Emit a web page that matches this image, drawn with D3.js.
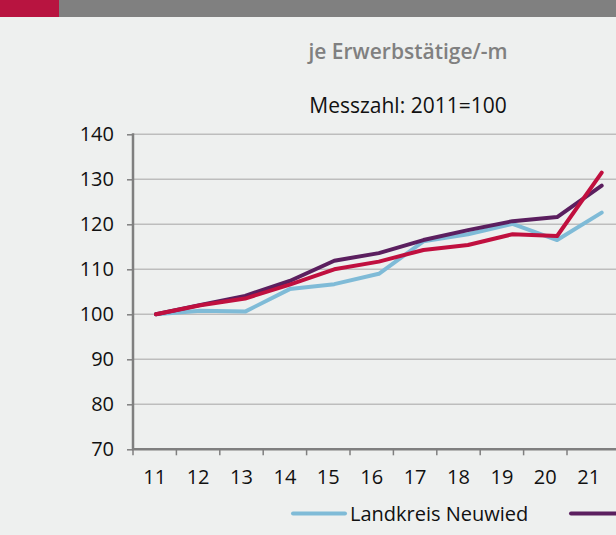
<!DOCTYPE html>
<html>
<head>
<meta charset="utf-8">
<script src="https://cdn.jsdelivr.net/npm/d3@7"></script>
<style>
  body { margin: 0; background: #eef0ef; }
  svg { display: block; font-family: "Open Sans", sans-serif; }
  .grid-line { stroke: #bdbdbd; stroke-width: 1.5; }
  .axis-line { stroke: #7f7f7f; stroke-width: 2.5; }
</style>
</head>
<body>
<div id="wrapper"></div>
<script>
// data
const years = ["11", "12", "13", "14", "15", "16", "17", "18", "19", "20", "21"];
const neuwied = [100, 100.8, 100.6, 105.6, 106.7, 109.0, 116.2, 117.8, 120.1, 116.5, 122.6];
const rlp = [100, 102.1, 104.1, 107.4, 111.9, 113.6, 116.5, 118.7, 120.7, 121.6, 128.6];
const deutschland = [100, 102.0, 103.5, 106.6, 110.0, 111.7, 114.3, 115.4, 117.8, 117.4, 131.5];
const yTicks = [70, 80, 90, 100, 110, 120, 130, 140];
const legendLabels = ["Landkreis Neuwied"];

const series = [
  { name: "Landkreis Neuwied", values: neuwied, color: "#7fbbd7" },
  { name: "Rheinland-Pfalz", values: rlp, color: "#5b1f5f" },
  { name: "Deutschland", values: deutschland, color: "#c0103f" },
];

// dimensions
const width = 616;
const height = 535;

const svg = d3.select("#wrapper")
  .append("svg")
  .attr("width", width)
  .attr("height", height);

svg.append("rect")
  .attr("width", width)
  .attr("height", height)
  .attr("fill", "#eef0ef");

// top banner
svg.append("rect").attr("width", width).attr("height", 17).attr("fill", "#808080");
svg.append("rect").attr("width", 59).attr("height", 17).attr("fill", "#b81440");

// titles
svg.append("text")
  .attr("x", 408).attr("y", 59)
  .attr("text-anchor", "middle")
  .attr("font-size", 21).attr("font-weight", 600)
  .attr("fill", "#808080")
  .text("je Erwerbstätige/-m");

svg.append("text")
  .attr("x", 408).attr("y", 113)
  .attr("text-anchor", "middle")
  .attr("font-size", 21)
  .attr("fill", "#111")
  .text("Messzahl: 2011=100");

// scales
const yScale = d3.scaleLinear().domain([70, 140]).range([449.3, 134.3]);
// axis categories
const xBand = d3.scaleBand().domain(years).range([133, 610.4]);
// line points
const xPoint = d3.scalePoint().domain(years).range([156, 601.7]);

// grid
svg.append("g")
  .selectAll("line")
  .data(yTicks.filter(d => d > 70))
  .join("line")
  .attr("class", "grid-line")
  .attr("x1", 133).attr("x2", width)
  .attr("y1", d => yScale(d)).attr("y2", d => yScale(d));

// y axis
const yAxis = svg.append("g")
  .attr("transform", "translate(133,0)")
  .call(d3.axisLeft(yScale).tickValues(yTicks).tickSize(6).tickPadding(13));
yAxis.select(".domain").remove();
yAxis.append("line").attr("class", "axis-line")
  .attr("y1", yScale(140) - 1).attr("y2", yScale(70));
yAxis.selectAll(".tick line").attr("stroke", "#7f7f7f").attr("stroke-width", 1.5);
yAxis.selectAll(".tick text")
  .attr("font-size", 20).attr("font-family", "'Open Sans', sans-serif").attr("fill", "#111");

// x axis
const xAxis = svg.append("g")
  .attr("transform", `translate(0,${yScale(70)})`);
xAxis.append("line").attr("class", "axis-line")
  .attr("x1", 132).attr("x2", width);
xAxis.selectAll(".tick-mark")
  .data(years)
  .join("line")
  .attr("class", "tick-mark")
  .attr("x1", d => xBand(d)).attr("x2", d => xBand(d))
  .attr("y1", 0).attr("y2", 6)
  .attr("stroke", "#7f7f7f").attr("stroke-width", 1.5);
xAxis.selectAll(".tick-label")
  .data(years)
  .join("text")
  .attr("class", "tick-label")
  .attr("x", d => xBand(d) + xBand.bandwidth() / 2)
  .attr("y", 34.5)
  .attr("text-anchor", "middle")
  .attr("font-size", 20).attr("fill", "#111")
  .text(d => d);

// lines
const lineGenerator = d3.line()
  .x((d, i) => xPoint(years[i]))
  .y(d => yScale(d));

svg.append("g")
  .selectAll("path")
  .data(series)
  .join("path")
  .attr("d", d => lineGenerator(d.values))
  .attr("fill", "none")
  .attr("stroke", d => d.color)
  .attr("stroke-width", 4)
  .attr("stroke-linejoin", "round")
  .attr("stroke-linecap", "round");

// legend
const legend = svg.append("g");
legend.append("line")
  .attr("x1", 293).attr("x2", 345)
  .attr("y1", 513.5).attr("y2", 513.5)
  .attr("stroke", series[0].color).attr("stroke-width", 4)
  .attr("stroke-linecap", "round");
legend.append("text")
  .attr("x", 350).attr("y", 521)
  .attr("font-size", 20).attr("fill", "#111")
  .text(legendLabels[0]);
legend.append("line")
  .attr("x1", 571).attr("x2", 640)
  .attr("y1", 513.5).attr("y2", 513.5)
  .attr("stroke", series[1].color).attr("stroke-width", 4)
  .attr("stroke-linecap", "round");
</script>
</body>
</html>
